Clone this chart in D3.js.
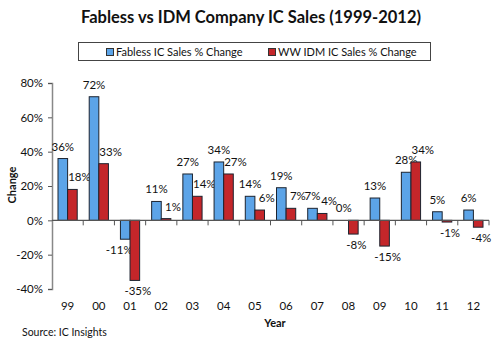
<!DOCTYPE html>
<html><head><meta charset="utf-8">
<script src="https://cdn.jsdelivr.net/npm/d3@7"></script>
<style>body{margin:0;background:#fff}svg{display:block}text{font-family:Lato,"Open Sans",sans-serif}</style>
</head><body><div id="c"></div>
<script>
const years = ["99","00","01","02","03","04","05","06","07","08","09","10","11","12"];
const fabless = [36,72,-11,11,27,34,14,19,7,0,13,28,5,6];
const idm = [18,33,-35,1,14,27,6,7,4,-8,-15,34,-1,-4];
const seriesNames = ["Fabless IC Sales % Change","WW IDM IC Sales % Change"];
const yTicks = [-40,-20,0,20,40,60,80];
const colors = ["#5ca4e8","#c4262a"];

const W=500,H=345;
const svg=d3.select("#c").append("svg").attr("width",W).attr("height",H);
const y=d3.scaleLinear().domain([-40,80]).range([289,83]);
const x0=d3.scaleBand().domain(years).range([52,489]);
const bw=x0.bandwidth();
const x1=d3.scaleBand().domain([0,1]).range([6,bw-6]);

svg.append("text").attr("x",251).attr("y",23).attr("text-anchor","middle")
  .attr("font-size",16.5).attr("font-weight","bold").attr("fill","#111")
  .text("Fabless vs IDM Company IC Sales (1999-2012)");

// legend
const lg=svg.append("g");
lg.append("rect").attr("x",78.5).attr("y",42.5).attr("width",352).attr("height",18)
  .attr("fill","#fff").attr("stroke","#444");
const lx=[106,268];
seriesNames.forEach((n,i)=>{
  lg.append("rect").attr("x",lx[i]+0.5).attr("y",48.5).attr("width",7).attr("height",7)
    .attr("fill",colors[i]).attr("stroke","#333");
  lg.append("text").attr("x",lx[i]+10).attr("y",56).attr("font-size",11).attr("fill","#111").text(n);
});

// y axis
const ya=svg.append("g").attr("transform","translate(52,0)")
  .call(d3.axisLeft(y).tickValues(yTicks).tickSize(4).tickFormat(d=>d+"%"));
ya.select(".domain").attr("stroke","#888").attr("stroke-width",1.5);
ya.selectAll(".tick line").attr("stroke","#555");
ya.selectAll(".tick text").attr("font-size",11.5).attr("fill","#111").attr("font-family","Lato").attr("dx",-2);

svg.append("text").attr("transform","translate(16,185) rotate(-90)").attr("text-anchor","middle")
  .attr("font-size",11).attr("font-weight","bold").attr("fill","#111").text("Change");

// bars
const data=years.map((yr,i)=>({yr,v:[fabless[i],idm[i]]}));
const g=svg.append("g");
data.forEach(d=>{
  d.v.forEach((v,s)=>{
    const xx=x0(d.yr)+x1(s);
    g.append("rect").attr("x",xx).attr("width",x1.bandwidth())
      .attr("y",y(Math.max(0,v))).attr("height",Math.abs(y(v)-y(0)))
      .attr("fill",colors[s]).attr("stroke","#1c2430").attr("stroke-width",1);
    const cx=xx+x1.bandwidth()/2;
    const dx = v>=0 ? (s===0?0:7) : (s===0?-6:3);
    g.append("text").attr("x",cx+dx)
      .attr("y", v>=0 ? y(v)-8 : y(v)+15)
      .attr("text-anchor","middle").attr("font-size",11.5).attr("fill","#111")
      .text(v+"%");
  });
});

// x axis line
const xa=svg.append("g");
xa.append("line").attr("x1",52).attr("x2",489).attr("y1",y(0)).attr("y2",y(0)).attr("stroke","#555").attr("stroke-width",1.2);
years.forEach(yr=>{
  const bx=x0(yr)+bw;
  xa.append("line").attr("x1",bx).attr("x2",bx).attr("y1",y(0)).attr("y2",y(0)+5).attr("stroke","#555");
  xa.append("text").attr("x",x0(yr)+bw/2).attr("y",310).attr("text-anchor","middle")
    .attr("font-size",11.5).attr("fill","#111").text(yr);
});

svg.append("text").attr("x",275).attr("y",327).attr("text-anchor","middle")
  .attr("font-size",11).attr("font-weight","bold").attr("fill","#111").text("Year");
svg.append("text").attr("x",22).attr("y",336).attr("font-size",10.5).attr("fill","#111").text("Source: IC Insights");
</script></body></html>
